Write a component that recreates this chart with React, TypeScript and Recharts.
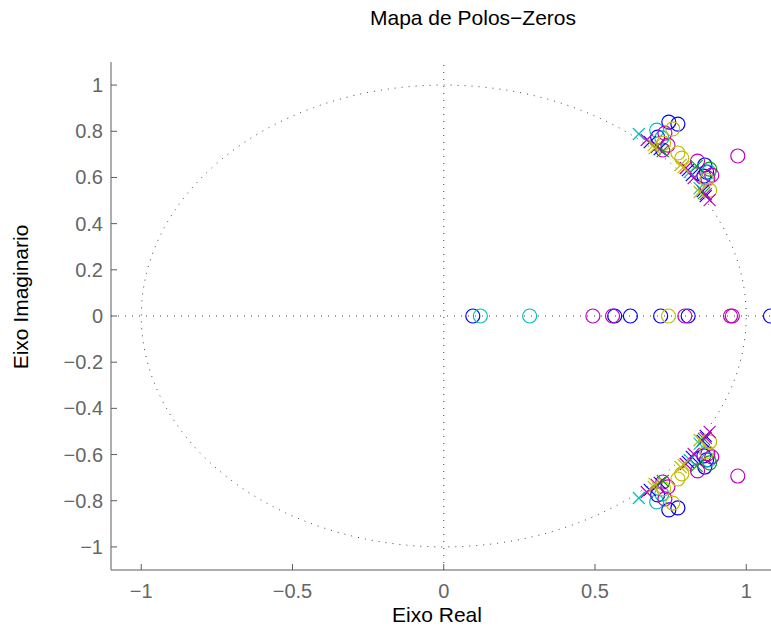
import React from "react";
import { ScatterChart, Scatter, XAxis, YAxis, ReferenceLine } from "recharts";

const bluePoles = [
  { x: 0.681, y: 0.753 }, { x: 0.714, y: 0.723 }, { x: 0.807, y: 0.632 },
  { x: 0.820, y: 0.610 }, { x: 0.856, y: 0.541 }, { x: 0.866, y: 0.519 },
  { x: 0.681, y: -0.753 }, { x: 0.714, y: -0.723 }, { x: 0.807, y: -0.632 },
  { x: 0.820, y: -0.610 }, { x: 0.856, y: -0.541 }, { x: 0.866, y: -0.519 },
];
const blueZeros = [
  { x: 0.744, y: 0.840 }, { x: 0.774, y: 0.831 }, { x: 0.707, y: 0.775 },
  { x: 0.863, y: 0.654 }, { x: 0.869, y: 0.623 }, { x: 0.860, y: 0.606 },
  { x: 0.096, y: 0 }, { x: 0.565, y: 0 }, { x: 0.617, y: 0 }, { x: 0.717, y: 0 },
  { x: 0.808, y: 0 }, { x: 1.08, y: 0 },
  { x: 0.744, y: -0.840 }, { x: 0.774, y: -0.831 }, { x: 0.707, y: -0.775 },
  { x: 0.863, y: -0.654 }, { x: 0.869, y: -0.623 }, { x: 0.860, y: -0.606 },
];
const cyanPoles = [
  { x: 0.645, y: 0.788 }, { x: 0.813, y: 0.623 }, { x: 0.846, y: 0.554 },
  { x: 0.645, y: -0.788 }, { x: 0.813, y: -0.623 }, { x: 0.846, y: -0.554 },
];
const cyanZeros = [
  { x: 0.704, y: 0.805 }, { x: 0.721, y: 0.771 }, { x: 0.876, y: 0.623 },
  { x: 0.121, y: 0 }, { x: 0.284, y: 0 },
  { x: 0.704, y: -0.805 }, { x: 0.721, y: -0.771 }, { x: 0.876, y: -0.623 },
];
const magentaPoles = [
  { x: 0.671, y: 0.762 }, { x: 0.704, y: 0.732 }, { x: 0.800, y: 0.641 },
  { x: 0.826, y: 0.597 }, { x: 0.866, y: 0.528 }, { x: 0.879, y: 0.502 },
  { x: 0.671, y: -0.762 }, { x: 0.704, y: -0.732 }, { x: 0.800, y: -0.641 },
  { x: 0.826, y: -0.597 }, { x: 0.866, y: -0.528 }, { x: 0.879, y: -0.502 },
];
const magentaZeros = [
  { x: 0.731, y: 0.792 }, { x: 0.741, y: 0.740 }, { x: 0.724, y: 0.719 },
  { x: 0.839, y: 0.671 }, { x: 0.972, y: 0.693 }, { x: 0.886, y: 0.610 },
  { x: 0.873, y: 0.597 },
  { x: 0.493, y: 0 }, { x: 0.558, y: 0 }, { x: 0.797, y: 0 }, { x: 0.948, y: 0 },
  { x: 0.954, y: 0 },
  { x: 0.731, y: -0.792 }, { x: 0.741, y: -0.740 }, { x: 0.724, y: -0.719 },
  { x: 0.839, y: -0.671 }, { x: 0.972, y: -0.693 }, { x: 0.886, y: -0.610 },
  { x: 0.873, y: -0.597 },
];
const yellowPoles = [
  { x: 0.694, y: 0.740 }, { x: 0.697, y: 0.727 }, { x: 0.783, y: 0.654 },
  { x: 0.793, y: 0.645 }, { x: 0.846, y: 0.537 },
  { x: 0.694, y: -0.740 }, { x: 0.697, y: -0.727 }, { x: 0.783, y: -0.654 },
  { x: 0.793, y: -0.645 }, { x: 0.846, y: -0.537 },
];
const yellowZeros = [
  { x: 0.757, y: 0.810 }, { x: 0.727, y: 0.749 }, { x: 0.774, y: 0.706 },
  { x: 0.787, y: 0.684 }, { x: 0.869, y: 0.589 }, { x: 0.879, y: 0.545 },
  { x: 0.743, y: 0 },
  { x: 0.757, y: -0.810 }, { x: 0.727, y: -0.749 }, { x: 0.774, y: -0.706 },
  { x: 0.787, y: -0.684 }, { x: 0.869, y: -0.589 }, { x: 0.879, y: -0.545 },
];
const greenPoles = [
  { x: 0.724, y: 0.714 }, { x: 0.836, y: 0.649 }, { x: 0.860, y: 0.532 },
  { x: 0.724, y: -0.714 }, { x: 0.836, y: -0.649 }, { x: 0.860, y: -0.532 },
];
const greenZeros = [{ x: 0.879, y: 0.636 }, { x: 0.879, y: -0.636 }];

const xTicks = [-1, -0.5, 0, 0.5, 1];
const yTicks = [-1, -0.8, -0.6, -0.4, -0.2, 0, 0.2, 0.4, 0.6, 0.8, 1];

// unit circle reference curve
const unitCircle = Array.from({ length: 241 }, (_, i) => {
  const a = (i / 240) * 2 * Math.PI;
  return { x: Math.cos(a), y: Math.sin(a) };
});

const series = [
  { name: "blue", color: "#0000ff", poles: bluePoles, zeros: blueZeros },
  { name: "green", color: "#00a000", poles: greenPoles, zeros: greenZeros },
  { name: "cyan", color: "#00bfbf", poles: cyanPoles, zeros: cyanZeros },
  { name: "magenta", color: "#bf00bf", poles: magentaPoles, zeros: magentaZeros },
  { name: "yellow", color: "#bfbf00", poles: yellowPoles, zeros: yellowZeros },
];

const AXIS = "#5c5c5c";
const FONT = "'Liberation Sans', Arial, Helvetica, sans-serif";

const fmt = (v: number) => {
  if (Math.abs(v) < 1e-9) return "0";
  const s = String(Math.round(Math.abs(v) * 10) / 10);
  return (v < 0 ? "\u2212" : "") + s;
};

const BottomTick = (props: any) => {
  const { x, y, payload } = props;
  return (
    <g>
      <line x1={x} y1={y} x2={x} y2={y - 6} stroke={AXIS} />
      <text x={x} y={y + 28} textAnchor="middle" fill="#666" fontSize={20} fontFamily={FONT}>
        {fmt(payload.value)}
      </text>
    </g>
  );
};
const TopTick = (props: any) => {
  const { x, y } = props;
  return <line x1={x} y1={y} x2={x} y2={y + 6} stroke={AXIS} />;
};
const LeftTick = (props: any) => {
  const { x, y, payload } = props;
  return (
    <g>
      <line x1={x} y1={y} x2={x + 6} y2={y} stroke={AXIS} />
      <text x={x - 8} y={y + 7} textAnchor="end" fill="#666" fontSize={20} fontFamily={FONT}>
        {fmt(payload.value)}
      </text>
    </g>
  );
};

const makeCircle = (color: string) => (p: any) => (
  <circle cx={p.cx} cy={p.cy} r={7} fill="none" stroke={color} strokeWidth={1.2} />
);
const makeCross = (color: string) => (p: any) => (
  <g stroke={color} strokeWidth={1.2}>
    <line x1={p.cx - 6} y1={p.cy - 6} x2={p.cx + 6} y2={p.cy + 6} />
    <line x1={p.cx - 6} y1={p.cy + 6} x2={p.cx + 6} y2={p.cy - 6} />
  </g>
);
const NoDot = () => <g />;

export default function App() {
  return (
    <div style={{ position: "absolute", left: 0, top: 0, width: 771, height: 630, overflow: "hidden", background: "#fff" }}>
      <ScatterChart width={840} height={630} margin={{ top: 62, right: 3, bottom: 30, left: 51 }}>
        <XAxis
          type="number"
          dataKey="x"
          domain={[-1.1, 1.3]}
          ticks={xTicks}
          height={30}
          tickSize={0}
          tickMargin={0}
          tick={<BottomTick />}
          axisLine={{ stroke: AXIS }}
          tickLine={false}
          allowDataOverflow
          interval={0}
        />
        <XAxis
          xAxisId="top"
          orientation="top"
          type="number"
          dataKey="x"
          domain={[-1.1, 1.3]}
          ticks={xTicks}
          height={0}
          tickSize={0}
          tickMargin={0}
          tick={<TopTick />}
          axisLine={{ stroke: AXIS }}
          tickLine={false}
          allowDataOverflow
          interval={0}
        />
        <YAxis
          type="number"
          dataKey="y"
          domain={[-1.1, 1.1]}
          ticks={yTicks}
          width={60}
          tickSize={0}
          tickMargin={0}
          tick={<LeftTick />}
          axisLine={{ stroke: AXIS }}
          tickLine={false}
          allowDataOverflow
          interval={0}
        />
        <ReferenceLine x={0} stroke="#444" strokeDasharray="1 6" />
        <ReferenceLine y={0} stroke="#444" strokeDasharray="1 6" />
        <Scatter
          data={unitCircle}
          line={{ stroke: "#444", strokeDasharray: "1 6", strokeWidth: 1 }}
          shape={NoDot}
          isAnimationActive={false}
        />
        {series.map((s) => (
          <Scatter key={s.name + "z"} data={s.zeros} shape={makeCircle(s.color)} isAnimationActive={false} />
        ))}
        {series.map((s) => (
          <Scatter key={s.name + "p"} data={s.poles} shape={makeCross(s.color)} isAnimationActive={false} />
        ))}
      </ScatterChart>
      <div style={{ position: "absolute", left: 273, width: 400, top: 6, textAlign: "center", fontFamily: FONT, fontSize: 21, color: "#000", lineHeight: "24px" }}>
        Mapa de Polos{"\u2212"}Zeros
      </div>
      <div style={{ position: "absolute", left: 287, width: 300, top: 603, textAlign: "center", fontFamily: FONT, fontSize: 21, color: "#000", lineHeight: "24px" }}>
        Eixo Real
      </div>
      <div
        style={{
          position: "absolute",
          left: 21,
          top: 297,
          transform: "translate(-50%, -50%) rotate(-90deg)",
          whiteSpace: "nowrap",
          fontFamily: FONT,
          fontSize: 21,
          color: "#000",
          lineHeight: "24px",
        }}
      >
        Eixo Imaginario
      </div>
    </div>
  );
}
